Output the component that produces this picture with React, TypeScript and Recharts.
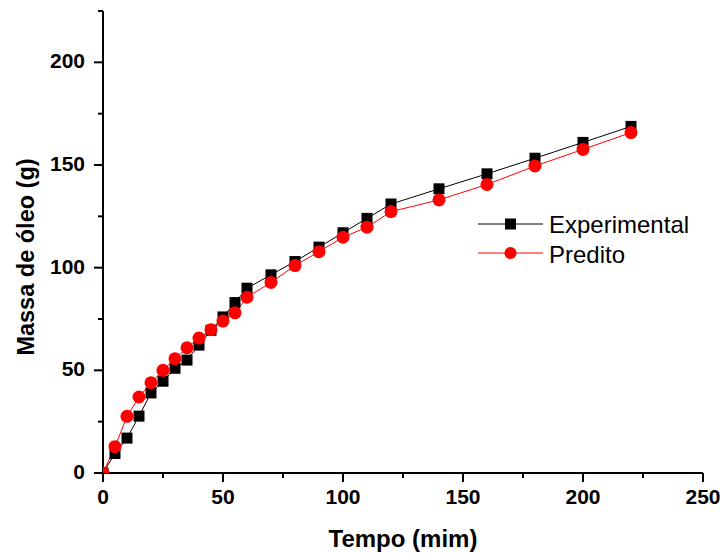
import { LineChart, Line, XAxis, YAxis } from "recharts";

const tempo = [0, 5, 10, 15, 20, 25, 30, 35, 40, 45, 50, 55, 60, 70, 80, 90, 100, 110, 120, 140, 160, 180, 200, 220];
const experimental = [0, 9.5, 17, 27.7, 39, 44.7, 51, 55, 62.3, 69.5, 76, 83, 90, 96.5, 103, 110, 117, 124, 131, 138.4, 145.7, 153.3, 161, 168.8];
const predito = [0, 12.8, 27.6, 37, 44, 50, 55.7, 61, 65.7, 69.8, 74, 78, 85.6, 92.8, 101, 107.8, 114.8, 119.7, 127.3, 133, 140.5, 149.5, 157.6, 165.8];

const xTicks = [0, 25, 50, 75, 100, 125, 150, 175, 200, 225, 250];
const yTicks = [0, 25, 50, 75, 100, 125, 150, 175, 200, 225];

const data = tempo.map((t, i) => ({ t, exp: experimental[i], pred: predito[i] }));

const FONT = "'Liberation Sans', Arial, sans-serif";

function XTick(props: any) {
  const { x, y, payload } = props;
  const major = payload.value % 50 === 0;
  return (
    <g>
      <line x1={x} y1={y} x2={x} y2={y + (major ? 9 : 5)} stroke="#000" strokeWidth={2} />
      {major && (
        <text x={x} y={y + 31} textAnchor="middle" fontSize={21} fontWeight="bold" fontFamily={FONT} fill="#000">
          {payload.value}
        </text>
      )}
    </g>
  );
}

function YTick(props: any) {
  const { x, y, payload } = props;
  const major = payload.value % 50 === 0;
  return (
    <g>
      <line x1={x} y1={y} x2={x - (major ? 9 : 5)} y2={y} stroke="#000" strokeWidth={2} />
      {major && (
        <text x={x - 18} y={y + 6} textAnchor="end" fontSize={21} fontWeight="bold" fontFamily={FONT} fill="#000">
          {payload.value}
        </text>
      )}
    </g>
  );
}

function YTitle(props: any) {
  const { viewBox } = props;
  const cx = viewBox.x + 26;
  const cy = viewBox.y + viewBox.height / 2 + 15;
  return (
    <text
      x={cx}
      y={cy + 8}
      transform={`rotate(-90, ${cx}, ${cy})`}
      textAnchor="middle"
      fontSize={23.5}
      fontWeight="bold"
      fontFamily={FONT}
      fill="#000"
    >
      Massa de óleo (g)
    </text>
  );
}

function SquareDot(props: any) {
  const { cx, cy, index } = props;
  return <rect key={`sq-${index}`} x={cx - 5.5} y={cy - 5.5} width={11} height={11} fill="#000" />;
}

function LegendBox() {
  return (
    <svg width={230} height={80} style={{ position: "absolute", left: 478, top: 200 }}>
      <line x1={0} y1={24} x2={65} y2={24} stroke="#000" strokeWidth={1} />
      <rect x={27} y={18.5} width={11} height={11} fill="#000" />
      <text x={71} y={33} fontSize={24} fontFamily={FONT} fill="#000">Experimental</text>
      <line x1={0} y1={53} x2={65} y2={53} stroke="#ff0000" strokeWidth={1} />
      <circle cx={32.5} cy={53} r={6} fill="#ff0000" />
      <text x={71} y={62.5} fontSize={24} fontFamily={FONT} fill="#000">Predito</text>
    </svg>
  );
}

export default function App() {
  return (
    <div style={{ position: "absolute", left: 0, top: 0, width: 720, height: 554, background: "#fff" }}>
      <LineChart width={720} height={554} data={data} margin={{ top: 11, right: 17, left: 0, bottom: 0 }}>
        <XAxis
          dataKey="t"
          type="number"
          domain={[0, 250]}
          ticks={xTicks}
          interval={0}
          allowDataOverflow
          height={81}
          tickSize={0}
          tickMargin={0}
          tickLine={false}
          tick={<XTick />}
          axisLine={{ stroke: "#000", strokeWidth: 2 }}
          label={{
            value: "Tempo (mim)",
            position: "insideBottom",
            offset: 7.5,
            style: { fontSize: 24, fontWeight: "bold", fontFamily: FONT, fill: "#000" },
          }}
        />
        <YAxis
          type="number"
          domain={[0, 225]}
          ticks={yTicks}
          interval={0}
          allowDataOverflow
          width={103}
          tickSize={0}
          tickMargin={0}
          tickLine={false}
          tick={<YTick />}
          axisLine={{ stroke: "#000", strokeWidth: 2 }}
          label={<YTitle />}
        />
        <Line
          dataKey="exp"
          stroke="#000"
          strokeWidth={1}
          dot={SquareDot}
          activeDot={false}
          isAnimationActive={false}
        />
        <Line
          dataKey="pred"
          stroke="#ff0000"
          strokeWidth={1}
          dot={{ r: 6.5, fill: "#ff0000", stroke: "none" }}
          activeDot={false}
          isAnimationActive={false}
        />
      </LineChart>
      <LegendBox />
    </div>
  );
}
